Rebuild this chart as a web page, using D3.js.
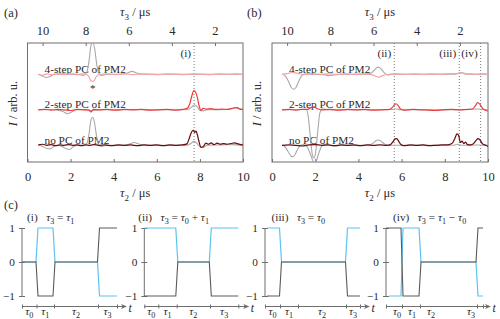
<!DOCTYPE html>
<html><head><meta charset="utf-8">
<script src="https://cdn.jsdelivr.net/npm/d3@7"></script>
<style>
body{margin:0;background:#fff}
svg{display:block}
</style>
</head><body>
<svg id="c" width="500" height="319"></svg>
<script>
// ---------------- DATA ----------------
const tau2Ticks = [0, 2, 4, 6, 8, 10];
const tau3Ticks = [10, 8, 6, 4, 2];
const tau3Offset = 10.7;            // tau3 = tau3Offset - tau2  (µs)
const traceNames = ["4-step PC of PM2", "2-step PC of PM2", "no PC of PM2"];
const traceOffsets = [2, 1, 0];     // arb. u. vertical offsets of the traces
const yDomain = [-0.47, 2.88];

// Panel (a): [tau2 (µs), I (arb. u.)]
const a4Color = [[0.5,0],[0.7,-0.03],[0.9,0.01],[1.1,-0.01],[1.4,0.01],[1.7,-0.01],[2.0,0.01],[2.3,0],[2.6,0.01],[2.8,-0.03],[2.95,-0.18],[3.05,-0.2],[3.2,-0.06],[3.35,0],[3.7,0.01],[4.1,-0.01],[4.5,0.01],[4.9,-0.01],[5.3,0.01],[5.7,0],[6.1,-0.01],[6.5,0.01],[6.9,0],[7.3,-0.01],[7.7,0.01],[8.1,0],[8.5,-0.01],[8.9,0.01],[9.3,0],[9.7,0.01],[10,0]];
const a4Gray = [[0.5,0],[0.65,-0.04],[0.85,-0.09],[1.05,-0.06],[1.25,0],[1.6,0.01],[2.0,0],[2.4,-0.01],[2.6,-0.03],[2.75,0.05],[2.85,0.35],[2.95,0.82],[3.03,0.9],[3.12,0.7],[3.22,0.25],[3.32,0.0],[3.45,-0.03],[3.7,0],[4.3,0],[4.6,0.03],[4.85,0.08],[5.1,0.03],[5.4,0],[6,0],[7,0],[8,0],[9,0],[10,0]];
const a2Color = [[0.5,0],[0.8,0.01],[1.1,-0.01],[1.4,0.01],[1.7,0],[2.0,-0.02],[2.3,0.01],[2.6,0],[2.85,-0.01],[2.95,-0.06],[3.05,0.01],[3.3,0],[3.7,0.01],[4.1,-0.01],[4.5,0.01],[4.9,0],[5.3,0.01],[5.7,-0.01],[6.1,0],[6.5,0.01],[6.9,-0.01],[7.2,0.01],[7.4,0.04],[7.52,0.15],[7.62,0.38],[7.72,0.54],[7.8,0.5],[7.88,0.35],[7.96,0.12],[8.05,-0.02],[8.15,0.04],[8.3,0.02],[8.5,0.03],[8.75,0.01],[9.0,0.02],[9.3,0.01],[9.55,0.05],[9.7,0.06],[9.85,0.02],[10,0.01]];
const a2Gray = [[0.5,0],[1.0,0.01],[1.4,-0.01],[1.65,-0.05],[1.85,-0.11],[2.05,-0.06],[2.3,0],[2.7,0.01],[3.0,-0.02],[3.3,0],[4,0],[5,0.01],[6,0],[7,0],[7.45,0.01],[7.62,0.08],[7.75,0.14],[7.88,0.08],[8.0,-0.02],[8.15,-0.03],[8.35,0],[9,0],[9.5,0.03],[9.7,0.06],[9.85,0.03],[10,0]];
const a0Color = [[0.5,0.01],[0.7,0.03],[0.9,0],[1.1,0.02],[1.3,-0.01],[1.5,0.01],[1.7,0],[1.9,0.02],[2.1,0],[2.3,0.01],[2.5,-0.01],[2.7,0.01],[2.9,0],[3.1,0.02],[3.3,0],[3.6,0.01],[3.9,-0.01],[4.2,0.01],[4.5,0],[4.8,0.01],[5.1,-0.01],[5.4,0.01],[5.7,0],[6.0,0.01],[6.3,-0.01],[6.6,0.01],[6.9,0],[7.2,0.01],[7.4,0.04],[7.52,0.22],[7.62,0.38],[7.7,0.42],[7.76,0.36],[7.82,0.4],[7.9,0.25],[7.98,0.05],[8.05,-0.06],[8.15,-0.04],[8.28,0.06],[8.4,0.03],[8.52,0.07],[8.65,0.02],[8.8,0.06],[8.95,0.03],[9.1,0.05],[9.25,0.03],[9.45,0.05],[9.6,0.07],[9.75,0.04],[9.9,0.02],[10,0.01]];
const a0Gray = [[0.5,0],[0.7,-0.03],[0.9,-0.09],[1.05,-0.1],[1.2,-0.04],[1.4,0],[1.6,-0.03],[1.8,-0.1],[1.95,-0.12],[2.1,-0.05],[2.3,0],[2.6,0.01],[2.75,0.05],[2.85,0.3],[2.95,0.72],[3.03,0.79],[3.12,0.6],[3.22,0.2],[3.32,-0.01],[3.45,-0.03],[3.7,0],[4.4,0],[4.7,0.03],[4.95,0.08],[5.2,0.03],[5.5,0],[6.5,0],[7.4,0],[7.6,0.06],[7.72,0.11],[7.85,0.06],[8.0,-0.04],[8.15,-0.05],[8.35,0],[9,0.01],[9.5,0.02],[10,0]];

// Panel (b)
const b4Color = [[0.46,0],[0.7,0.02],[0.95,0.05],[1.15,0.03],[1.4,0],[1.8,0.01],[2.2,0],[2.6,0.01],[3.0,0],[3.4,0.01],[3.8,0],[4.2,0.01],[4.6,-0.01],[4.8,-0.06],[4.95,-0.08],[5.15,-0.03],[5.4,0],[5.8,0.01],[6.2,0],[6.6,0.01],[7,0],[7.4,0.01],[7.8,0],[8.2,0.01],[8.6,0.02],[8.8,0.04],[9.0,0.01],[9.4,0],[9.8,0.01],[10,0]];
const b4Gray = [[0.46,0],[0.6,-0.04],[0.75,-0.18],[0.9,-0.38],[1.0,-0.42],[1.1,-0.38],[1.25,-0.18],[1.4,-0.03],[1.6,0.01],[2.0,0],[2.4,-0.01],[2.65,-0.04],[2.85,-0.02],[3.2,0],[4.0,0],[4.5,0.01],[4.65,0.06],[4.8,0.16],[4.92,0.2],[5.05,0.15],[5.2,0.04],[5.35,-0.02],[5.55,0],[6.5,0],[7.5,0],[8.5,0.01],[8.75,0.05],[8.95,0.01],[9.5,0],[10,0]];
const b2Color = [[0.46,0],[0.8,0.01],[1.1,-0.01],[1.4,0.01],[1.65,0.01],[1.8,0.06],[1.95,0.08],[2.1,0.03],[2.3,0],[2.7,0.01],[3.1,-0.01],[3.5,0.01],[3.9,0],[4.3,0.01],[4.7,-0.01],[5.1,0],[5.45,0.01],[5.58,0.07],[5.68,0.15],[5.75,0.17],[5.84,0.12],[5.95,0.02],[6.1,-0.01],[6.5,0.01],[6.9,0],[7.3,-0.01],[7.6,-0.02],[7.9,0],[8.3,0.01],[8.7,0],[9.1,0.01],[9.3,0.03],[9.42,0.12],[9.52,0.2],[9.62,0.16],[9.75,0.04],[9.9,-0.02],[10,-0.03]];
const b2Gray = [[0.46,0],[1.0,0],[1.4,0.01],[1.6,0],[1.68,-0.2],[1.78,-0.8],[1.88,-1.3],[1.95,-1.36],[2.02,-1.2],[2.12,-0.6],[2.22,-0.08],[2.35,0.03],[2.6,0],[3.5,0],[4.5,0],[5.6,0.01],[5.75,0.03],[5.9,0],[7,0],[8.5,0],[9.5,0.02],[10,0]];
const b0Color = [[0.46,0],[0.8,0.01],[1.1,0],[1.4,-0.02],[1.7,0.01],[2.0,0.02],[2.3,0],[2.6,0.01],[2.9,-0.01],[3.2,0.01],[3.5,0],[3.8,0.01],[4.1,-0.01],[4.4,0.01],[4.7,0],[5.0,0.01],[5.3,0],[5.48,0.02],[5.6,0.1],[5.7,0.18],[5.77,0.19],[5.86,0.12],[5.97,0.02],[6.1,-0.01],[6.4,0.01],[6.7,0],[7.0,0.01],[7.3,-0.01],[7.6,0],[7.9,0.01],[8.2,0.02],[8.35,0.06],[8.47,0.2],[8.56,0.32],[8.64,0.28],[8.72,0.08],[8.8,0.12],[8.88,0.05],[8.96,0.09],[9.05,0.02],[9.2,0.01],[9.35,0.06],[9.45,0.14],[9.54,0.19],[9.63,0.15],[9.75,0.04],[9.9,0],[10,-0.03]];
const b0Gray = [[0.46,0],[0.6,-0.04],[0.75,-0.18],[0.88,-0.3],[0.96,-0.32],[1.05,-0.28],[1.18,-0.12],[1.3,-0.01],[1.45,0.02],[1.62,-0.04],[1.78,-0.25],[1.9,-0.45],[1.98,-0.5],[2.06,-0.42],[2.18,-0.2],[2.3,-0.02],[2.45,0.03],[2.65,0.01],[2.9,-0.02],[3.2,0],[4.0,0],[4.5,0.01],[4.68,0.06],[4.85,0.14],[4.95,0.15],[5.08,0.1],[5.25,0.02],[5.4,-0.01],[5.6,0],[6.5,0],[7.5,0],[8.4,0],[8.6,0.03],[8.75,0],[9.5,0.01],[10,0]];

const markersA = [["(i)", 7.73]];
const markersB = [["(ii)", 5.66], ["(iii)", 8.67], ["(iv)", 9.66]];
const asteriskA = [3.03, 1.62];

// Panel (c): pulse sequence schematics, time in arbitrary units
const subLabels = ["(i)", "(ii)", "(iii)", "(iv)"];
const subEquations = ["τ_3 = τ_1", "τ_3 = τ_0 + τ_1", "τ_3 = τ_0", "τ_3 = τ_1 − τ_0"];
const segNames = ["τ_0", "τ_1", "τ_2", "τ_3"];
const subBounds = [[0,14.5,32,76,95],[0,14,32.4,65.7,94],[0,15,33,81,95],[0,16,34,91,97]];
const subGray = [
  [[0,0],[14,0],[16,-1],[31,-1],[33,0],[75.5,0],[77.5,1],[95,1]],
  [[0,-1],[31.5,-1],[33.5,0],[65,0],[67,-1],[94,-1]],
  [[2,-1],[14.5,-1],[16.5,0],[80.5,0],[82.5,-1],[95,-1]],
  [[0,1],[15,1],[17,-1],[33,-1],[35,0],[90,0],[92,1],[97,1]]
];
const subBlue = [
  [[0,0],[14,0],[16,1],[31,1],[33,0],[75.5,0],[77.5,-1],[95,-1]],
  [[0,1],[31.5,1],[33.5,0],[65,0],[67,1],[94,1]],
  [[2,1],[14.5,1],[16.5,0],[80.5,0],[82.5,1],[95,1]],
  [[3,-1],[15,-1],[17,1],[33,1],[35,0],[90,0],[92,-1],[97,-1]]
];
const levelTicks = [-1, 0, 1];

// ---------------- STYLE / LAYOUT ----------------
const traceColors = ["#f6a3a3", "#f03a3a", "#6a0a0a"];
const grayColor = "#a9a9a9";
const blueColor = "#5cc4f0";
const waveGray = "#5a5a5a";
const frameColor = "#6e6e6e";
const textColor = "#2a2a2a";
const fs = 12.5;
const FONT = "'Liberation Serif', 'Times New Roman', serif";
// label positions (t units) for the narrow-segment panel (iv); null = segment centre
const segLabelPos = [null, null, null, [11, 26, 45, 85]];

const svg = d3.select("#c").style("font-family", FONT);

function txt(parent) {
  return parent.append("text").style("font-family", FONT).attr("fill", textColor);
}

function mathText(sel, str, size) {
  const parts = str.split(/(τ_\d)/).filter(s => s.length);
  let shifted = false;
  parts.forEach(p => {
    if (/^τ_\d$/.test(p)) {
      const t = sel.append("tspan").text("τ").attr("font-style", "italic");
      if (shifted) { t.attr("dy", -size*0.28); shifted = false; }
      sel.append("tspan").text(p[2]).attr("font-size", size*0.72).attr("dy", size*0.28);
      shifted = true;
    } else {
      const t = sel.append("tspan").text(p);
      if (shifted) { t.attr("dy", -size*0.28); shifted = false; }
    }
  });
  return sel;
}

function styleAxis(a, size) {
  a.attr("font-family", null).style("font-family", FONT).attr("font-size", size);
  a.selectAll("line").attr("stroke", frameColor);
  a.selectAll("text").attr("fill", textColor).style("font-family", FONT);
}

function drawPanel(cfg) {
  const {left, right, top, bottom, tag, tagX, series, markers} = cfg;
  const x = d3.scaleLinear().domain([0, 10]).range([left, right]);
  const xt = d3.scaleLinear().domain([tau3Offset, tau3Offset - 10]).range([left, right]);
  const y = d3.scaleLinear().domain(yDomain).range([bottom, top]);
  const g = svg.append("g");
  const clipId = "clip" + tag.replace(/\W/g, "");
  svg.append("clipPath").attr("id", clipId).append("rect")
    .attr("x", left).attr("y", top).attr("width", right - left).attr("height", bottom - top);

  const ax = g.append("g").attr("transform", `translate(0,${bottom})`)
    .call(d3.axisBottom(x).tickValues(tau2Ticks).tickFormat(d3.format("d")).tickSizeInner(-3).tickSizeOuter(0).tickPadding(10));
  const at = g.append("g").attr("transform", `translate(0,${top})`)
    .call(d3.axisTop(xt).tickValues(tau3Ticks).tickFormat(d3.format("d")).tickSizeInner(-3).tickSizeOuter(0).tickPadding(8));
  [ax, at].forEach(a => { a.select(".domain").remove(); styleAxis(a, fs); });
  g.append("rect").attr("x", left).attr("y", top).attr("width", right - left).attr("height", bottom - top)
    .attr("fill", "none").attr("stroke", frameColor).attr("stroke-width", 1);

  markers.forEach(([lab, t2]) => {
    g.append("line").attr("x1", x(t2)).attr("x2", x(t2)).attr("y1", top).attr("y2", bottom)
      .attr("stroke", "#777").attr("stroke-width", 1).attr("stroke-dasharray", "1,2");
    txt(g).attr("x", x(t2) - 3).attr("y", top + 14).attr("text-anchor", "end")
      .attr("font-size", 11.3).text(lab);
  });

  traceNames.forEach((n, i) => {
    txt(g).attr("x", left + 17).attr("y", y(traceOffsets[i]) - 1.5)
      .attr("font-size", 11.3).text(n);
  });

  const line = d3.line().x(d => x(d[0])).curve(d3.curveMonotoneX);
  const lg = g.append("g").attr("clip-path", `url(#${clipId})`);
  series.forEach((s, i) => {
    lg.append("path").datum(s.gray).attr("fill", "none").attr("stroke", grayColor).attr("stroke-width", 1.1)
      .attr("d", line.y(d => y(d[1] + traceOffsets[i])));
  });
  series.forEach((s, i) => {
    lg.append("path").datum(s.color).attr("fill", "none").attr("stroke", traceColors[i]).attr("stroke-width", 1.2)
      .attr("d", line.y(d => y(d[1] + traceOffsets[i])));
  });

  mathText(txt(g).attr("x", (left + right) / 2).attr("y", 16).attr("text-anchor", "middle").attr("font-size", fs), "τ_3 / μs", fs);
  mathText(txt(g).attr("x", (left + right) / 2).attr("y", 197).attr("text-anchor", "middle").attr("font-size", fs), "τ_2 / μs", fs);
  const yl = txt(g).attr("transform", `translate(${left - 11},${(top + bottom) / 2 + 1}) rotate(-90)`)
    .attr("text-anchor", "middle").attr("font-size", fs);
  yl.append("tspan").attr("font-style", "italic").text("I");
  yl.append("tspan").text(" / arb. u.");
  txt(g).attr("x", tagX).attr("y", 17).attr("font-size", fs).text(tag);
  return {x, y, g};
}

const pa = drawPanel({left: 27.5, right: 243, top: 43, bottom: 162, tag: "(a)", tagX: 4,
  series: [{color: a4Color, gray: a4Gray}, {color: a2Color, gray: a2Gray}, {color: a0Color, gray: a0Gray}],
  markers: markersA});
txt(pa.g).attr("x", pa.x(asteriskA[0])).attr("y", pa.y(asteriskA[1]) + 4)
  .attr("text-anchor", "middle").attr("font-size", 11).text("*");
drawPanel({left: 272, right: 488, top: 43, bottom: 162, tag: "(b)", tagX: 247,
  series: [{color: b4Color, gray: b4Gray}, {color: b2Color, gray: b2Gray}, {color: b0Color, gray: b0Gray}],
  markers: markersB});

// ---------------- Panel (c) ----------------
txt(svg).attr("x", 4).attr("y", 209).attr("font-size", fs).text("(c)");
const subX0 = [22, 144.3, 265, 386];
const subTitleDx = [5, -6, 6.5, 7];
const yc = d3.scaleLinear().domain([-1, 1]).range([296, 228]);
const tAxisY = 306.5;
subX0.forEach((x0, k) => {
  const g = svg.append("g");
  const tc = d3.scaleLinear().domain([0, 100]).range([x0, x0 + 100]);
  const la = g.append("g").attr("transform", `translate(${x0},0)`)
    .call(d3.axisLeft(yc).tickValues(levelTicks).tickFormat(d3.format("d")).tickSizeInner(3).tickSizeOuter(0).tickPadding(3));
  styleAxis(la, 11.3);
  la.selectAll("line").attr("x2", 3).attr("x1", -3);
  la.select(".domain").attr("stroke", frameColor).attr("d", `M0,${yc(1)}V${yc(-1)}`);
  la.selectAll("text").attr("dx", -1);
  g.append("line").attr("x1", x0).attr("x2", x0 + 101).attr("y1", tAxisY).attr("y2", tAxisY)
    .attr("stroke", frameColor).attr("stroke-width", 1);
  g.append("path").attr("d", `M${x0 + 105},${tAxisY}L${x0 + 99},${tAxisY - 2.5}L${x0 + 100.5},${tAxisY}L${x0 + 99},${tAxisY + 2.5}Z`)
    .attr("fill", frameColor);
  const ta = g.append("g").attr("transform", `translate(0,${tAxisY - 2})`)
    .call(d3.axisBottom(tc).tickValues(subBounds[k]).tickSize(4).tickFormat(""));
  ta.select(".domain").remove();
  ta.selectAll("line").attr("stroke", frameColor);
  txt(g).attr("x", x0 + 106.5).attr("y", tAxisY + 5.5).attr("font-size", 11.8).attr("font-style", "italic").text("t");
  segNames.forEach((s, i) => {
    const b = subBounds[k];
    const pos = segLabelPos[k] ? segLabelPos[k][i] : (b[i] + b[i + 1]) / 2;
    mathText(txt(g).attr("x", tc(pos)).attr("y", 315).attr("text-anchor", "middle").attr("font-size", 11.3), s, 11.3);
  });
  const wl = d3.line().x(d => tc(d[0])).y(d => yc(d[1]));
  g.append("path").datum(subBlue[k]).attr("fill", "none").attr("stroke", blueColor).attr("stroke-width", 1.2).attr("d", wl);
  g.append("path").datum(subGray[k]).attr("fill", "none").attr("stroke", waveGray).attr("stroke-width", 1.1).attr("d", wl);
  const tt = txt(g).attr("x", x0 + subTitleDx[k]).attr("y", 220.5).attr("font-size", 11.3);
  tt.append("tspan").text(subLabels[k] + "\u2002 ");
  mathText(tt, subEquations[k], 11.3);
});
</script>
</body></html>
